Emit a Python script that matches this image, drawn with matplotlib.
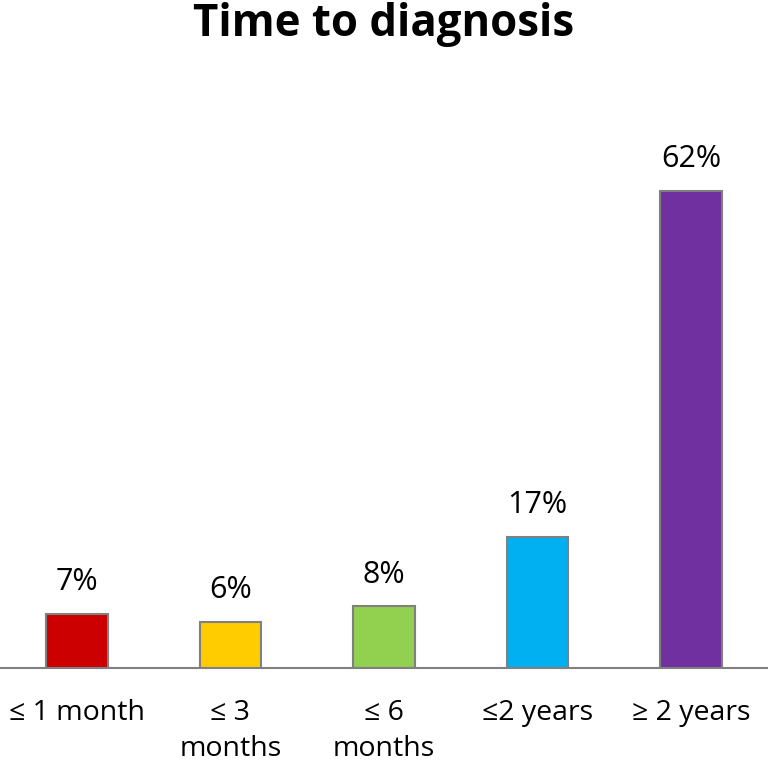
import matplotlib
matplotlib.use('Agg')
import matplotlib.pyplot as plt

categories = ['\u2264 1 month', '\u2264 3\nmonths', '\u2264 6\nmonths', '\u22642 years', '\u2265 2 years']
values = [7, 6, 8, 17, 62]
colors = ['#CC0000', '#FFCC00', '#92D050', '#00B0F0', '#7030A0']

plt.rcParams['font.family'] = ['Open Sans', 'DejaVu Sans']

fig = plt.figure(figsize=(7.68, 7.65), dpi=100)
ax = fig.add_axes([0.0, 0.1268, 1.0, 0.7036])

x = range(len(categories))
bars = ax.bar(x, values, width=0.4, color=colors, edgecolor='#808080', linewidth=1.5, zorder=3)
for bar, val in zip(bars, values):
    ax.text(bar.get_x() + bar.get_width() / 2, bar.get_height() + 3.1, f'{val}%',
            ha='center', va='baseline', fontsize=22, color='black')

ax.set_xlim(-0.5, len(categories) - 0.5)
ax.set_ylim(0, 70)
ax.set_xticks(list(x))
ax.set_xticklabels(categories, fontsize=20.5, linespacing=1.42)
ax.tick_params(axis='x', length=0, pad=22)
ax.set_yticks([])
for s in ['top', 'right', 'left']:
    ax.spines[s].set_visible(False)
ax.spines['bottom'].set_color('#808080')
ax.spines['bottom'].set_linewidth(1.5)

fig.text(0.5, 0.953, 'Time to diagnosis', ha='center', va='baseline', fontsize=31.5, fontweight='bold')

fig.savefig('out.png', dpi=100, facecolor='white')
